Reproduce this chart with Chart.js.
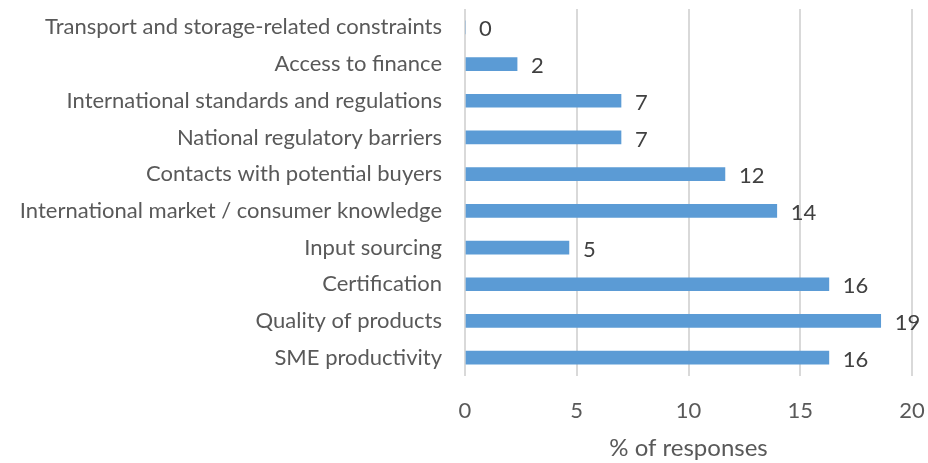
<!DOCTYPE html>
<html>
<head>
<meta charset="utf-8">
<script src="https://cdn.jsdelivr.net/npm/chart.js@4.4.0/dist/chart.umd.min.js"></script>
<style>
  html, body { margin: 0; padding: 0; background: #fff; }
</style>
</head>
<body>
<canvas id="barrier-chart" width="928" height="463"></canvas>
<script>
const categories = [
    'Transport and storage-related constraints',
    'Access to finance',
    'International standards and regulations',
    'National regulatory barriers',
    'Contacts with potential buyers',
    'International market / consumer knowledge',
    'Input sourcing',
    'Certification',
    'Quality of products',
    'SME productivity'
];
const responseShares = [0, 2.33, 6.98, 6.98, 11.63, 13.95, 4.65, 16.28, 18.6, 16.28];
const xTicks = [0, 5, 10, 15, 20];

const textColor = '#595959';
const fontFamily = 'Lato, "Open Sans", sans-serif';

// draws the rounded value just right of each bar
const valueLabels = {
    id: 'valueLabels',
    afterDatasetsDraw(chart) {
        const ctx = chart.ctx;
        const meta = chart.getDatasetMeta(0);
        ctx.save();
        ctx.font = '22px ' + fontFamily;
        ctx.fillStyle = '#404040';
        ctx.textAlign = 'left';
        ctx.textBaseline = 'middle';
        meta.data.forEach((bar, i) => {
            ctx.fillText(Math.round(responseShares[i]), bar.x + 14, bar.y + 2);
        });
        ctx.restore();
    }
};

const ctx = document.getElementById('barrier-chart').getContext('2d');
new Chart(ctx, {
    type: 'bar',
    data: {
        labels: categories,
        datasets: [{
            data: responseShares,
            backgroundColor: '#5B9BD5',
            borderWidth: 0,
            barThickness: 13
        }]
    },
    options: {
        indexAxis: 'y',
        responsive: false,
        animation: false,
        layout: { padding: { top: 9, right: 16, left: 0, bottom: 0 } },
        plugins: {
            legend: { display: false },
            tooltip: { enabled: false }
        },
        scales: {
            x: {
                min: 0,
                max: 20,
                afterBuildTicks: (axis) => { axis.ticks = xTicks.map(v => ({ value: v })); },
                afterFit: (axis) => {
                    axis.height = 87;
                    axis.paddingLeft = 0;
                    axis.paddingRight = 0;
                },
                grid: { color: '#D9D9D9', lineWidth: 2, drawTicks: false },
                border: { display: false },
                ticks: { color: textColor, font: { family: fontFamily, size: 22 }, padding: 22 },
                title: {
                    display: true,
                    text: '% of responses',
                    color: textColor,
                    font: { family: fontFamily, size: 24 },
                    padding: { top: 6, bottom: 0 }
                }
            },
            y: {
                afterFit: (axis) => {
                    axis.width = 465;
                    axis.paddingTop = 0;
                    axis.paddingBottom = 0;
                },
                grid: { display: false, drawTicks: false },
                border: { display: false },
                ticks: { color: textColor, font: { family: fontFamily, size: 22 }, padding: 23, autoSkip: false }
            }
        }
    },
    plugins: [valueLabels]
});
</script>
</body>
</html>
